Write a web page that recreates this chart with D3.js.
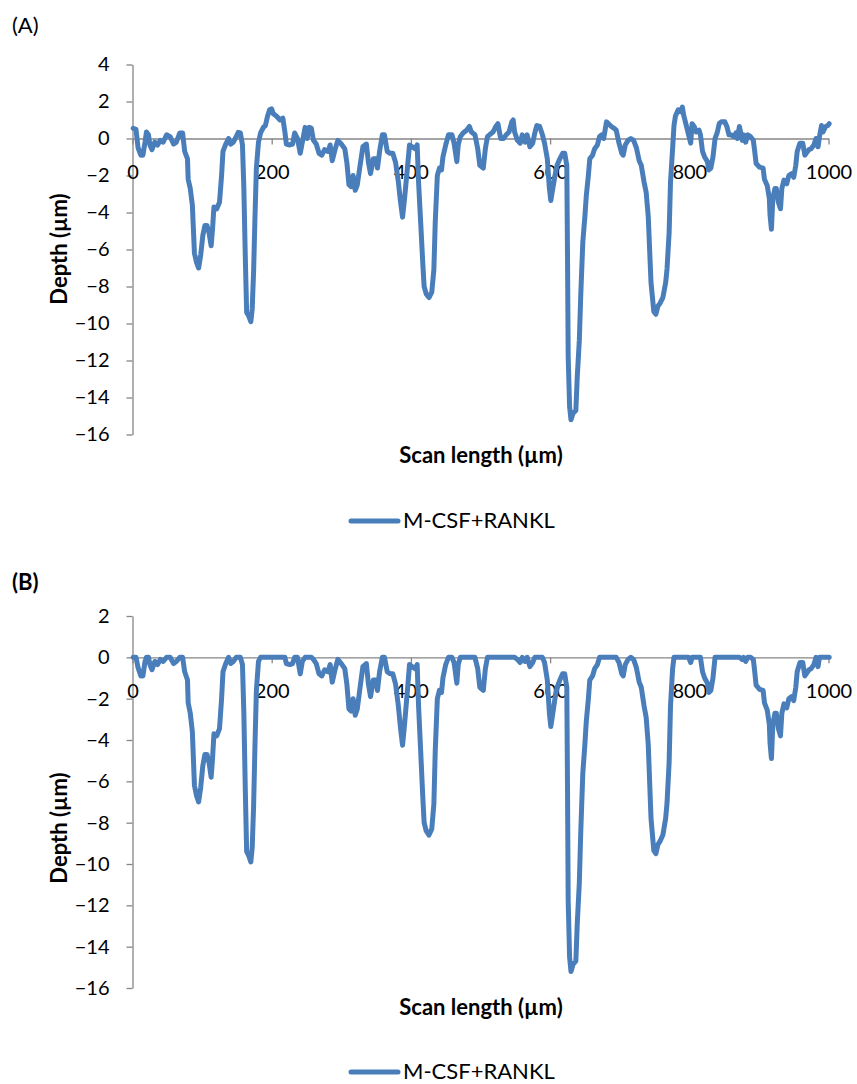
<!DOCTYPE html>
<html>
<head>
<meta charset="utf-8">
<script src="https://cdn.jsdelivr.net/npm/d3@7"></script>
<style>
  body { margin: 0; background: #fff; }
  svg { display: block; font-family: Lato, "Open Sans", sans-serif; }
</style>
</head>
<body>
<script>
// scan positions (µm) and depth profiles (µm)
const scanX = [
  1, 5, 8, 12, 15, 18, 20, 23, 25, 28,
  32, 36, 40, 44, 49, 54, 59, 63, 68, 72,
  75, 79, 80, 83, 86, 89, 92, 95, 98, 101,
  104, 107, 110, 113, 115, 117, 121, 125, 128, 130,
  134, 138, 141, 145, 149, 152, 155, 158, 160, 162,
  164, 167, 170, 172, 174, 176, 178, 181, 184, 188,
  191, 194, 197, 200, 202, 207, 212, 216, 219, 221,
  226, 230, 233, 237, 241, 244, 248, 251, 254, 257,
  260, 264, 268, 272, 276, 281, 284, 287, 291, 295,
  300, 305, 308, 311, 314, 317, 320, 323, 327, 331,
  336, 339, 342, 346, 350, 352, 355, 359, 362, 366,
  370, 374, 378, 382, 385, 388, 391, 395, 398, 402,
  406, 409, 411, 414, 417, 419, 422, 426, 430, 433,
  435, 438, 441, 444, 446, 450, 454, 459, 462, 466,
  468, 471, 475, 480, 484, 487, 492, 496, 499, 504,
  507, 510, 513, 518, 522, 525, 529, 533, 537, 541,
  545, 547, 549, 553, 557, 560, 564, 567, 571, 575,
  578, 581, 585, 589, 592, 596, 599, 601, 603, 607,
  610, 614, 618, 621, 624, 625, 626, 628, 630, 633,
  637, 639, 642, 644, 647, 650, 652, 655, 657, 661,
  664, 668, 671, 674, 677, 681, 684, 688, 692, 695,
  699, 703, 705, 708, 712, 716, 720, 724, 728, 731,
  735, 738, 741, 743, 745, 749, 752, 755, 758, 762,
  766, 768, 771, 773, 776, 778, 780, 784, 787, 790,
  792, 796, 799, 802, 804, 807, 810, 814, 816, 819,
  822, 826, 828, 831, 834, 837, 840, 843, 846, 851,
  854, 857, 860, 864, 867, 869, 872, 876, 878, 881,
  884, 888, 892, 894, 896, 901, 906, 908, 912, 915,
  916, 918, 920, 923, 925, 928, 931, 933, 936, 940,
  943, 947, 950, 953, 955, 959, 963, 966, 968, 972,
  975, 979, 982, 985, 987, 990, 992, 996, 999, 1001
];

const depthA = [
  0.55, 0.5, -0.5, -0.9, -0.9, -0.2, 0.35, 0.2, -0.35, -0.6,
  -0.2, -0.35, -0.1, -0.2, 0.2, 0.1, -0.3, -0.2, 0.3, 0.3,
  -0.7, -1.1, -2.2, -2.7, -3.6, -6.2, -6.7, -7.0, -6.3, -5.25,
  -4.7, -4.7, -5.1, -5.8, -4.9, -3.7, -3.8, -3.45, -2.0, -0.7,
  -0.3, 0, -0.3, -0.2, 0.1, 0.33, 0.3, -0.35, -2.7, -6.3,
  -9.4, -9.6, -9.9, -9.2, -7.2, -4.2, -1.6, -0.2, 0.3, 0.6,
  0.7, 1.2, 1.55, 1.6, 1.35, 1.2, 1.0, 1.1, 0.35, -0.3,
  -0.35, -0.3, 0.3, 0, -0.8, -0.2, 0.6, 0, 0.6, 0.55,
  -0.1, -0.3, -0.8, -0.9, -0.6, -0.7, -0.35, -1.2, -0.6, -0.1,
  -0.3, -0.55, -1.3, -2.5, -2.6, -2.0, -2.8, -2.5, -1.45, -0.45,
  -0.3, -1.3, -1.9, -1.1, -1.1, -1.6, -0.7, 0.2, 0.2, -0.7,
  -0.8, -0.8, -1.3, -2.35, -3.4, -4.25, -3.2, -1.6, -0.35, -0.45,
  -0.55, -0.35, -2.35, -4.5, -6.7, -8.0, -8.4, -8.6, -8.3, -7.1,
  -4.5, -2.0, -1.6, -1.7, -1.0, -0.35, 0.2, 0.2, -0.25, -1.25,
  -0.35, 0.1, 0.3, 0.45, 0.65, 0.35, 0.2, -0.55, -1.45, -1.6,
  -0.55, 0.1, 0.2, 0.35, 0.65, 0.8, 0, 0, 0.2, 0.35,
  0.9, 1.0, 0.35, -0.1, -0.25, 0.2, -0.2, 0.2, -0.45, -0.25,
  0.3, 0.7, 0.65, 0.2, -0.25, -1.1, -2.7, -3.35, -2.9, -2.0,
  -1.45, -1.1, -0.8, -0.8, -1.45, -6.3, -11.8, -14.5, -15.2, -14.85,
  -14.7, -12.9, -10.9, -8.5, -5.6, -4.2, -3.1, -2.0, -1.1, -0.9,
  -0.55, -0.35, 0.1, 0.2, 0, 0.9, 0.8, 0.65, 0.55, 0.45,
  -0.25, -0.8, -0.9, -0.35, -0.1, 0, -0.1, -0.5, -1.2, -1.45,
  -2.35, -2.9, -4.2, -6.0, -7.8, -9.35, -9.5, -9.05, -8.9, -8.6,
  -7.8, -7.05, -5.1, -2.35, -0.55, 0.7, 1.2, 1.55, 1.45, 1.7,
  1.25, 0.65, 0.2, -0.25, 0.8, 0.65, 0.35, 0.45, 0.2, -0.7,
  -1.0, -1.25, -1.7, -1.6, -1.0, 0, 0.3, 0.8, 0.9, 0.9,
  0.65, 0.2, 0.2, 0.1, 0.3, 0, 0.65, -0.1, 0.2, -0.2,
  0.2, 0.1, -0.1, -0.7, -1.35, -1.55, -1.6, -2.2, -2.55, -3.25,
  -4.15, -4.9, -3.25, -2.7, -2.7, -3.45, -3.8, -2.7, -2.25, -2.45,
  -2.0, -1.9, -2.1, -1.45, -0.7, -0.25, -0.25, -0.9, -0.8, -0.6,
  -0.55, -0.35, 0, -0.45, 0.1, 0.7, 0.35, 0.65, 0.7, 0.8
];

const depthB = [
  0, 0, -0.5, -0.9, -0.9, -0.2, 0, 0, -0.35, -0.6,
  -0.2, -0.35, -0.1, -0.2, 0, 0, -0.3, -0.2, 0, 0,
  -0.7, -1.1, -2.2, -2.7, -3.6, -6.2, -6.7, -7.0, -6.3, -5.25,
  -4.7, -4.7, -5.1, -5.8, -4.9, -3.7, -3.8, -3.45, -2.0, -0.7,
  -0.3, 0, -0.3, -0.2, 0, 0, 0, -0.35, -2.7, -6.3,
  -9.4, -9.6, -9.9, -9.2, -7.2, -4.2, -1.6, -0.2, 0, 0,
  0, 0, 0, 0, 0, 0, 0, 0, 0, -0.3,
  -0.35, -0.3, 0, 0, -0.8, -0.2, 0, 0, 0, 0,
  -0.1, -0.3, -0.8, -0.9, -0.6, -0.7, -0.35, -1.2, -0.6, -0.1,
  -0.3, -0.55, -1.3, -2.5, -2.6, -2.0, -2.8, -2.5, -1.45, -0.45,
  -0.3, -1.3, -1.9, -1.1, -1.1, -1.6, -0.7, 0, 0, -0.7,
  -0.8, -0.8, -1.3, -2.35, -3.4, -4.25, -3.2, -1.6, -0.35, -0.45,
  -0.55, -0.35, -2.35, -4.5, -6.7, -8.0, -8.4, -8.6, -8.3, -7.1,
  -4.5, -2.0, -1.6, -1.7, -1.0, -0.35, 0, 0, -0.25, -1.25,
  -0.35, 0, 0, 0, 0, 0, 0, -0.55, -1.45, -1.6,
  -0.55, 0, 0, 0, 0, 0, 0, 0, 0, 0,
  0, 0, 0, -0.1, -0.25, 0, -0.2, 0, -0.45, -0.25,
  0, 0, 0, 0, -0.25, -1.1, -2.7, -3.35, -2.9, -2.0,
  -1.45, -1.1, -0.8, -0.8, -1.45, -6.3, -11.8, -14.5, -15.2, -14.85,
  -14.7, -12.9, -10.9, -8.5, -5.6, -4.2, -3.1, -2.0, -1.1, -0.9,
  -0.55, -0.35, 0, 0, 0, 0, 0, 0, 0, 0,
  -0.25, -0.8, -0.9, -0.35, -0.1, 0, -0.1, -0.5, -1.2, -1.45,
  -2.35, -2.9, -4.2, -6.0, -7.8, -9.35, -9.5, -9.05, -8.9, -8.6,
  -7.8, -7.05, -5.1, -2.35, -0.55, 0, 0, 0, 0, 0,
  0, 0, 0, -0.25, 0, 0, 0, 0, 0, -0.7,
  -1.0, -1.25, -1.7, -1.6, -1.0, 0, 0, 0, 0, 0,
  0, 0, 0, 0, 0, 0, 0, -0.1, 0, -0.2,
  0, 0, -0.1, -0.7, -1.35, -1.55, -1.6, -2.2, -2.55, -3.25,
  -4.15, -4.9, -3.25, -2.7, -2.7, -3.45, -3.8, -2.7, -2.25, -2.45,
  -2.0, -1.9, -2.1, -1.45, -0.7, -0.25, -0.25, -0.9, -0.8, -0.6,
  -0.55, -0.35, 0, -0.45, 0, 0, 0, 0, 0, 0
];

const xTicks = [0, 200, 400, 600, 800, 1000];
const yTicksA = [4, 2, 0, -2, -4, -6, -8, -10, -12, -14, -16];
const yTicksB = [2, 0, -2, -4, -6, -8, -10, -12, -14, -16];
const seriesName = 'M-CSF+RANKL';

const W = 857, H = 1084;
const lineColor = '#4a7ebb';
const axisColor = '#868686';

const svg = d3.select('body').append('svg')
  .attr('width', W)
  .attr('height', H);

function panel(opt) {
  const g = svg.append('g');
  const x = d3.scaleLinear().domain([0, 1000]).range([132.5, 828.5]);
  const y = d3.scaleLinear().domain(opt.yDomain).range(opt.yRange);

  // panel letter
  g.append('text').text(opt.letter)
    .attr('x', 12).attr('y', opt.letterY)
    .style('font-size', '22px')
    .style('font-weight', opt.letterBold ? 'bold' : 'normal');

  // y axis
  const ya = g.append('g')
    .attr('transform', 'translate(132.5,0)')
    .call(d3.axisLeft(y).tickValues(opt.yTicks).tickFormat(d3.format('d'))
      .tickSizeInner(6).tickSizeOuter(0).tickPadding(17));

  // x axis sits on depth = 0
  const xa = g.append('g')
    .attr('transform', `translate(0,${y(0)})`)
    .call(d3.axisBottom(x).tickValues(xTicks).tickFormat(d3.format('d'))
      .tickSizeInner(6).tickSizeOuter(0).tickPadding(20));

  [ya, xa].forEach(a => {
    a.select('.domain').attr('stroke', axisColor).attr('stroke-width', 1.3);
    a.selectAll('.tick line').attr('stroke', axisColor).attr('stroke-width', 1.3);
    a.selectAll('.tick text').attr('fill', '#000')
      .style('font-size', '20px').style('font-family', 'Lato, sans-serif');
  });

  // profile line
  const line = d3.line()
    .x((d, i) => x(scanX[i]))
    .y(d => y(d));
  g.append('path')
    .attr('d', line(opt.depth))
    .attr('fill', 'none')
    .attr('stroke', lineColor)
    .attr('stroke-width', 5)
    .attr('stroke-linejoin', 'round')
    .attr('stroke-linecap', 'round');

  // axis titles
  g.append('text').text('Depth (µm)')
    .attr('transform', `translate(67,${opt.depthLabelY}) rotate(-90)`)
    .attr('text-anchor', 'middle')
    .style('font-size', '22px').style('font-weight', 'bold');
  g.append('text').text('Scan length (µm)')
    .attr('x', 481).attr('y', opt.scanLabelY)
    .attr('text-anchor', 'middle')
    .style('font-size', '22px').style('font-weight', 'bold');

  // legend
  g.append('line')
    .attr('x1', 351).attr('x2', 398)
    .attr('y1', opt.legendY).attr('y2', opt.legendY)
    .attr('stroke', lineColor).attr('stroke-width', 5)
    .attr('stroke-linecap', 'round');
  g.append('text').text(seriesName)
    .attr('x', 403).attr('y', opt.legendY + 7)
    .style('font-size', '22px');
}

panel({
  letter: '(A)', letterY: 33, letterBold: false,
  yDomain: [4, -16], yRange: [64.5, 434.5], yTicks: yTicksA,
  depth: depthA,
  depthLabelY: 249, scanLabelY: 463, legendY: 521
});

panel({
  letter: '(B)', letterY: 590, letterBold: true,
  yDomain: [2, -16], yRange: [616, 988], yTicks: yTicksB,
  depth: depthB,
  depthLabelY: 828, scanLabelY: 1015, legendY: 1072
});
</script>
</body>
</html>
